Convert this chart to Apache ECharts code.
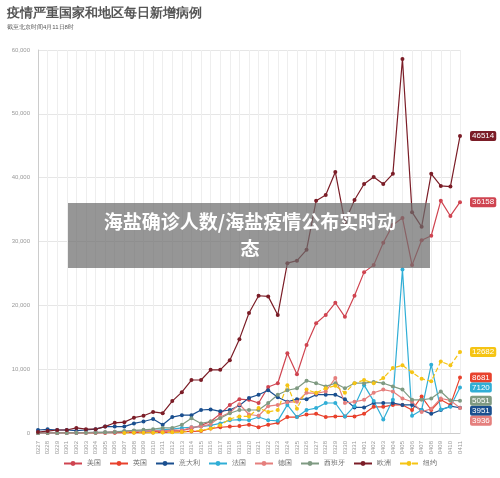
<!DOCTYPE html>
<html>
<head>
<meta charset="utf-8">
<script src="https://cdn.jsdelivr.net/npm/echarts@6/dist/echarts.min.js"></script>
<style>html,body{margin:0;padding:0;background:#fff}#chart{width:500px;height:478px}</style>
</head>
<body>
<div id="chart"></div>
<script>
var dates = ['0227','0228','0229','0301','0302','0303','0304','0305','0306','0307','0308','0309','0310','0311','0312','0313','0314','0315','0316','0317','0318','0319','0320','0321','0322','0323','0324','0325','0326','0327','0328','0329','0330','0331','0401','0402','0403','0404','0405','0406','0407','0408','0409','0410','0411'];
var usa = [10,10,10,20,20,30,30,50,60,100,120,150,200,300,350,400,700,1200,1800,3000,4400,5300,5200,4700,7200,7800,12500,9200,13800,17200,18500,20400,18200,21500,25200,26300,29800,32600,33700,26300,30200,30900,36400,34000,36158];
var uk = [0,0,0,10,10,20,30,40,50,60,60,70,80,100,150,200,250,300,700,900,1000,1100,1300,900,1300,1600,2500,2500,2900,3000,2500,2600,2600,2600,3000,4100,4100,4400,4400,3600,5700,3600,5200,4400,8681];
var italy = [470,570,470,470,360,470,600,1000,1000,1000,1500,1800,2200,1300,2500,2800,2800,3600,3700,3400,3600,4300,5500,6000,6700,5600,4900,5300,5300,6000,6000,6000,5300,4000,4000,4700,4700,4700,4400,4400,3600,3000,3600,4200,3951];
var france = [10,20,30,40,50,80,100,100,200,250,300,300,400,500,600,800,900,1000,1200,1500,2000,2100,2000,2500,2000,1900,4400,2500,3600,3900,4700,4700,2600,4200,7500,5000,2100,5200,25600,2700,3600,10700,3700,4100,7120];
var germany = [20,30,40,50,60,80,100,100,200,200,300,300,400,300,500,400,900,1000,1400,2500,3200,4500,2900,2700,4200,4400,4800,4900,6300,6200,6500,8600,4700,4900,5200,6300,6800,6500,5400,4900,3300,3800,5400,5100,3936];
var spain = [0,0,0,10,20,30,50,100,150,300,400,500,600,800,800,1300,2300,1500,1800,2300,3100,3600,3600,3600,4700,6000,6700,7000,8200,7800,7300,7800,7000,7800,7800,8000,7800,7300,6800,5200,5200,5400,6500,5100,5051];
var europe = [160,300,470,470,800,600,600,1000,1600,1700,2400,2700,3300,3100,5000,6400,8300,8300,9900,9900,11400,14700,18800,21500,21400,18500,26600,27000,28700,36400,37300,40900,33000,36500,39000,40100,39000,40600,58600,34600,32300,40600,38700,38600,46514];
var ny = [null,null,null,null,null,null,null,null,null,10,20,30,50,80,100,150,300,400,700,1200,2200,2600,2600,3900,3300,3600,7500,3800,6800,6300,7000,7400,6300,7800,8300,7800,8600,10200,10600,9500,8500,8100,11200,10600,12682];

var names = ['美国','英国','意大利','法国','德国','西班牙','欧洲','纽约'];
var colors = ['#cf4450','#e8412c','#1a4f8f','#30aed6','#e57f7d','#7f9a82','#7b1d27','#f5c414'];
var values = [usa, uk, italy, france, germany, spain, europe, ny];

var chart = echarts.init(document.getElementById('chart'));
var series = [];
for (var i = 0; i < names.length; i++) {
	series.push({
		name: names[i],
		type: 'line',
		data: values[i],
		symbol: 'circle',
		symbolSize: 4,
		color: colors[i],
		lineStyle: {width: 1.2, type: names[i] === '纽约' ? 'dashed' : 'solid'},
		endLabel: {
			show: true,
			formatter: '{c}',
			color: '#fff',
			fontSize: 8,
			backgroundColor: colors[i],
			padding: [1, 2],
			borderRadius: 2,
			distance: 10
		},
		labelLayout: {moveOverlap: 'shiftY'}
	});
}

chart.setOption({
	animation: false,
	title: {
		text: '疫情严重国家和地区每日新增病例',
		subtext: '截至北京时间4月11日8时',
		left: 2,
		top: 2,
		itemGap: 4,
		textStyle: {fontSize: 13, fontWeight: 'bold', color: '#555'},
		subtextStyle: {fontSize: 6, color: '#555'}
	},
	legend: {
		bottom: 6,
		itemWidth: 18,
		itemHeight: 6,
		itemGap: 8,
		textStyle: {fontSize: 7, color: '#666'},
		data: names
	},
	grid: {left: 38, right: 40, top: 50, bottom: 45},
	xAxis: {
		type: 'category',
		data: dates,
		boundaryGap: false,
		axisLine: {lineStyle: {color: '#ccc'}},
		axisTick: {show: false},
		axisLabel: {rotate: 90, fontSize: 6, color: '#999', interval: 0},
		splitLine: {show: true, lineStyle: {color: '#eee'}}
	},
	yAxis: {
		type: 'value',
		min: 0,
		max: 60000,
		interval: 10000,
		axisLine: {show: true, lineStyle: {color: '#ccc'}},
		axisLabel: {fontSize: 6, color: '#999'},
		splitLine: {lineStyle: {color: '#e6e6e6'}}
	},
	graphic: [{
		type: 'rect',
		left: 68,
		top: 203,
		shape: {width: 362, height: 65},
		style: {fill: 'rgba(110,110,110,0.72)'},
		z: 100
	}, {
		type: 'text',
		left: 'center',
		top: 208,
		style: {
			text: '海盐确诊人数/海盐疫情公布实时动\n态',
			fill: '#fff',
			font: 'bold 19px "Noto Sans CJK SC"',
			textAlign: 'center',
			lineHeight: 27
		},
		z: 101
	}],
	series: series
});
</script>
</body>
</html>
